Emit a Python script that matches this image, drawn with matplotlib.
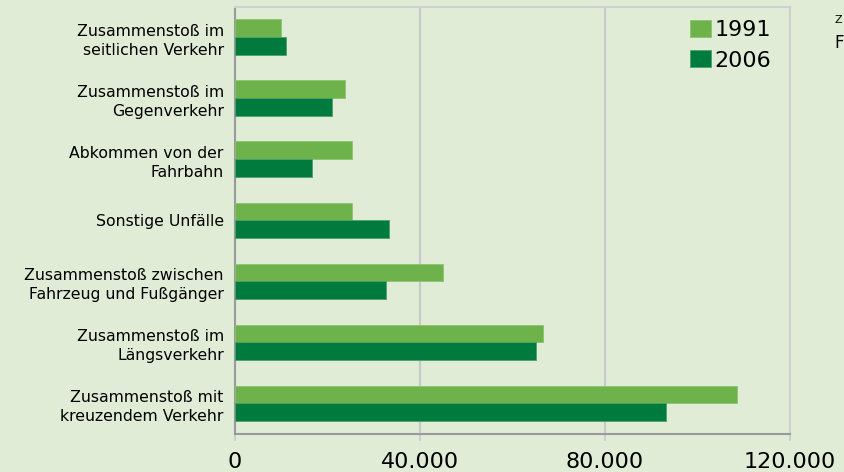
import numpy as np
import matplotlib
matplotlib.use("Agg")
import matplotlib.pyplot as plt
from matplotlib.ticker import FixedLocator

categories = [
    "Zusammenstoß im\nseitlichen Verkehr",
    "Zusammenstoß im\nGegenverkehr",
    "Abkommen von der\nFahrbahn",
    "Sonstige Unfälle",
    "Zusammenstoß zwischen\nFahrzeug und Fußgänger",
    "Zusammenstoß im\nLängsverkehr",
    "Zusammenstoß mit\nkreuzendem Verkehr",
]
values_1991 = [9900, 23700, 25300, 25300, 44900, 66700, 108500]
values_2006 = [11000, 21000, 16700, 33300, 32600, 65100, 93200]
xticks = [0, 40000, 80000, 120000]
xtick_labels = ["0", "40.000", "80.000", "120.000"]

bg = "#e1ecd6"
light = "#6eb24b"
dark = "#007b3e"

fig = plt.figure(figsize=(8.44, 4.72), dpi=100, facecolor=bg)
ax = fig.add_axes([0.2784, 0.0805, 0.6576, 0.9045], facecolor=bg)

y = np.arange(len(categories))
h = 0.29
ax.barh(y - h / 2, values_1991, height=h, color=light, edgecolor="#8cc46c",
        linewidth=0.6, label="1991", zorder=3)
ax.barh(y + h / 2, values_2006, height=h, color=dark, edgecolor="#4f9f6b",
        linewidth=0.6, label="2006", zorder=3)

ax.set_ylim(len(categories) - 0.5, -0.49)
ax.set_xlim(0, 120000)
ax.set_yticks(y)
ax.set_yticklabels(categories, fontsize=11.3, linespacing=1.35)
ax.tick_params(axis="y", length=0, pad=8)

ax.xaxis.set_major_locator(FixedLocator(xticks))
ax.set_xticklabels(xtick_labels, fontsize=16)
ax.tick_params(axis="x", length=5, width=1.2, color="#c8c8cc", pad=8)
ax.grid(axis="x", color="#c8c8cc", linewidth=1.5, zorder=0)

for side in ["top", "right"]:
    ax.spines[side].set_color("#d0d0d4")
    ax.spines[side].set_linewidth(1.5)
for side in ["left", "bottom"]:
    ax.spines[side].set_color("#9a9a9e")
    ax.spines[side].set_linewidth(1.5)

leg = ax.legend(loc="upper right", frameon=False, fontsize=16,
                handlelength=0.95, handleheight=0.8, handletextpad=0.15,
                labelspacing=0.45, borderaxespad=0.0,
                bbox_to_anchor=(0.982, 0.99))

# cut-off label of a neighbouring panel at the right edge
fig.text(0.989, 0.958, "Z", fontsize=8, ha="left", va="center")
fig.text(0.989, 0.908, "F", fontsize=12, ha="left", va="center")

fig.savefig("out.png", dpi=100, facecolor=bg)
